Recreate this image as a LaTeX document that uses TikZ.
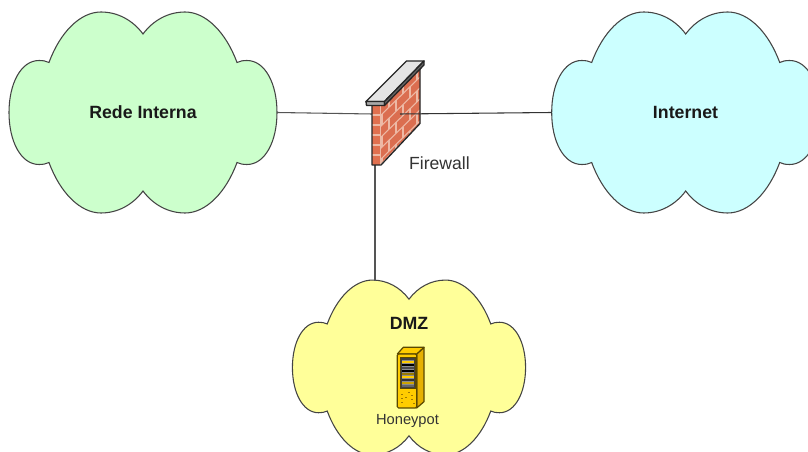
\documentclass[tikz,border=0pt]{standalone}
\usepackage{fontspec}
\setmainfont{Liberation Sans}
\definecolor{greenfill}{HTML}{CCFFCC}
\definecolor{cyanfill}{HTML}{CCFFFF}
\definecolor{yellowfill}{HTML}{FFFF99}
\definecolor{outl}{HTML}{444444}
\definecolor{conn}{HTML}{555555}
\definecolor{brick}{HTML}{DB6E50}
\definecolor{brickface}{HTML}{E0704F}
\definecolor{joint}{HTML}{EDB9A5}
\definecolor{capgrey}{HTML}{E4E4E4}
\definecolor{capdark}{HTML}{A8A8A8}
\definecolor{gold}{HTML}{FFCC00}
\definecolor{golddark}{HTML}{E6B000}
\definecolor{goldline}{HTML}{5A4800}
\newcommand{\cloudshape}{
  (0,-78.5) .. controls (-10,-92) and (-25,-100.5) .. (-42,-100.5)
  .. controls (-63,-100.5) and (-83,-80) .. (-94,-50)
  .. controls (-97,-51.5) and (-100,-52) .. (-104,-52)
  .. controls (-122,-52) and (-134,-29) .. (-134,0)
  .. controls (-134,29) and (-122,52) .. (-104,52)
  .. controls (-100,52) and (-97,51.5) .. (-94,50)
  .. controls (-83,80) and (-63,100.5) .. (-42,100.5)
  .. controls (-25,100.5) and (-10,92) .. (0,78.5)
  .. controls (10,92) and (25,100.5) .. (42,100.5)
  .. controls (63,100.5) and (83,80) .. (94,50)
  .. controls (97,51.5) and (100,52) .. (104,52)
  .. controls (122,52) and (134,29) .. (134,0)
  .. controls (134,-29) and (122,-52) .. (104,-52)
  .. controls (100,-52) and (97,-51.5) .. (94,-50)
  .. controls (83,-80) and (63,-100.5) .. (42,-100.5)
  .. controls (25,-100.5) and (10,-92) .. (0,-78.5) -- cycle}
\tikzset{
  cloudline/.style={draw=outl,line width=.8pt},
  connector/.style={draw=conn,line width=.8pt},
  boldlabel/.style={font=\fontsize{13.3pt}{15pt}\bfseries\selectfont,text=black!90,inner sep=0pt},
  fwlabel/.style={font=\fontsize{13.2pt}{15pt}\selectfont,text=black!80,inner sep=0pt},
  hplabel/.style={font=\fontsize{11pt}{13pt}\selectfont,text=black!80,inner sep=0pt},
  jointline/.style={draw=joint,line width=.8pt},
  fwedge/.style={draw=black!85,line width=1pt,line join=round},
  srvedge/.style={draw=goldline,line width=.9pt,line join=round}
}
\begin{document}
\begin{tikzpicture}[x=.75pt,y=-.75pt]
\useasboundingbox (0,0) rectangle (808,452);
\clip (0,0) rectangle (808,452);
\fill[white] (0,0) rectangle (808,452);

% clouds
\begin{scope}[shift={(143,112.5)}]
  \path[cloudline,fill=greenfill] \cloudshape;
  \coordinate (redeE) at (134,0);
\end{scope}
\begin{scope}[shift={(685.7,112.5)}]
  \path[cloudline,fill=cyanfill] \cloudshape;
  \coordinate (inetW) at (-134,0);
\end{scope}
\begin{scope}[shift={(409,367.5)},xscale=.87,yscale=.87]
  \path[cloudline,fill=yellowfill] \cloudshape;
\end{scope}
\coordinate (dmzN) at (375,281);

% firewall anchor points
\coordinate (fwW) at (372,114);
\coordinate (fwE) at (400,114);
\coordinate (fwS) at (375,165);

\draw[connector] (redeE) -- (fwW);
\draw[connector] (fwS) -- (dmzN);

% firewall: wall face
\begin{scope}
  \fill[brick] (380,105) -- (420,68) -- (420,123) -- (380,164.5) -- cycle;
  \clip (380,105) -- (420,68) -- (420,123) -- (380,164.5) -- cycle;
  \foreach \k in {0,...,6} {
    \draw[jointline] (380,{105+11*\k}) -- (420,{66+11*\k});
  }
  \foreach \k in {0,2,4} {
    \foreach \u in {9,23,37} {
      \draw[jointline] ({380+\u},{105+11*\k-.975*\u}) -- ++(0,11);
    }
  }
  \foreach \k in {1,3,5} {
    \foreach \u in {2,16,30} {
      \draw[jointline] ({380+\u},{105+11*\k-.975*\u}) -- ++(0,11);
    }
  }
\end{scope}
% firewall: pillar
\fill[brickface] (372,105) rectangle (380,165);
\foreach \k in {1,...,5} {
  \draw[jointline] (372,{105+10*\k}) -- (380,{105+10*\k});
}
\draw[joint,line width=1pt] (380.6,106) -- (380.6,164);
\draw[fwedge] (372,105) -- (372,165) -- (381,165) -- (420,123.5) -- (420,66);
% firewall: cap
\fill[capgrey,fwedge] (366,101.5) -- (406.5,61) -- (424,61) -- (384.5,101.5) -- cycle;
\fill[capdark,fwedge] (366,101.5) -- (384.5,101.5) -- (384.5,105.5) -- (366.5,105.5) -- cycle;
\fill[capdark!60!black,fwedge] (384.5,101.5) -- (424,61) -- (424,65) -- (384.5,105.5) -- cycle;

\draw[draw=black!80,line width=.8pt] (inetW) -- (fwE);

% server
\fill[golddark,srvedge] (416.7,354) -- (424,347.3) -- (424,401.7) -- (416.7,408) -- cycle;
\fill[gold,srvedge] (397.3,354) -- (403.3,347.3) -- (424,347.3) -- (416.7,354) -- cycle;
\fill[gold,srvedge,rounded corners=1pt] (397.3,354) rectangle (416.7,408);
\fill[black!75,draw=goldline,line width=.6pt] (400.5,357) rectangle (415,388);
\fill[black!45] (402,360) rectangle (413.5,386.5);
\foreach \yy/\cc in {361/gold,364/black,367/black!70,370/black,373/gold!60!black,376/gold,379/black!80,382/gold!80!black,385/black!60} {
  \fill[\cc] (402,\yy) rectangle (413.5,\yy+1.6);
}
\foreach \xx/\yy in {401/394,401/398,401/402,405/397,408/392,411/395,411/399,413/403} {
  \fill[golddark!70!black] (\xx,\yy) rectangle (\xx+1.5,\yy+1.5);
}

% labels
\node[boldlabel] (redeLabel) at (143,112) {Rede Interna};
\node[boldlabel] (inetLabel) at (685.5,112) {Internet};
\node[boldlabel] (dmzLabel) at (409,323) {DMZ};
\node[fwlabel] (fwLabel) at (439.5,163.5) {Firewall};
\node[hplabel] (hpLabel) at (407.5,421) {Honeypot};
\end{tikzpicture}
\end{document}
